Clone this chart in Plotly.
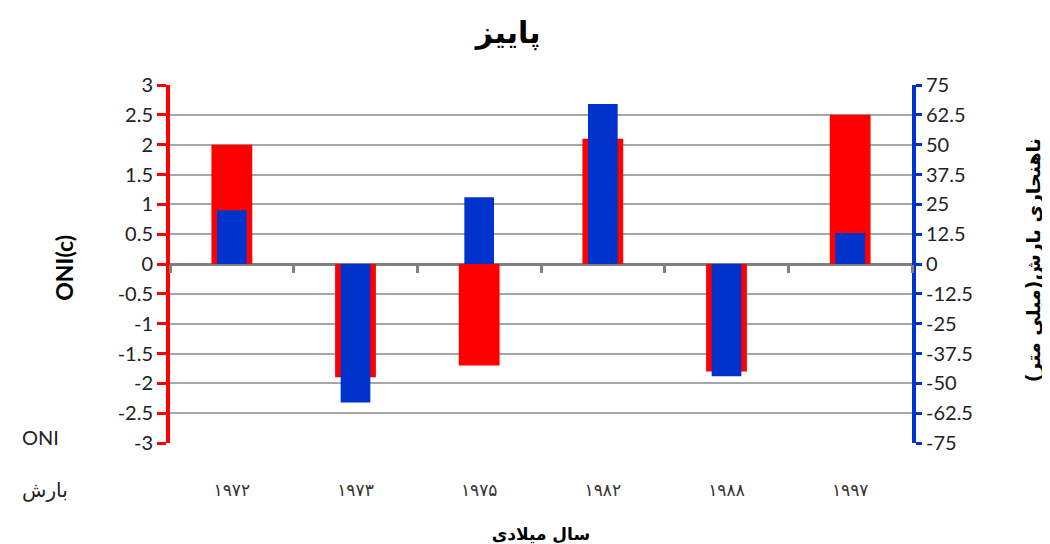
import plotly.graph_objects as go

years = ["۱۹۷۲", "۱۹۷۳", "۱۹۷۵", "۱۹۸۲", "۱۹۸۸", "۱۹۹۷"]
oni = [2.0, -1.9, -1.7, 2.1, -1.8, 2.5]
precip = [22.5, -58.0, 28.0, 67.0, -47.0, 13.0]

left_ticks = [3, 2.5, 2, 1.5, 1, 0.5, 0, -0.5, -1, -1.5, -2, -2.5, -3]
right_ticks = [75, 62.5, 50, 37.5, 25, 12.5, 0, -12.5, -25, -37.5, -50, -62.5, -75]

RED = "#FF0000"
BLUE = "#0033CC"
GRID = "#A6A6A6"
FONT = "Lato"

fig = go.Figure()
fig.add_trace(go.Bar(x=years, y=oni, name="ONI", marker=dict(color=RED, line=dict(width=0)),
                     width=0.33, yaxis="y"))
fig.add_trace(go.Bar(x=years, y=precip, name="بارش", marker=dict(color=BLUE, line=dict(width=0)),
                     width=0.24, yaxis="y2"))
# invisible helper so the zero-line category ticks axis renders
fig.add_trace(go.Scatter(x=[0, 6], y=[0, 0], xaxis="x2", yaxis="y", mode="markers",
                         marker=dict(opacity=0), hoverinfo="skip", showlegend=False))

fig.update_layout(
    width=1042, height=536,
    margin=dict(l=162, r=138, t=77, b=101, autoexpand=False),
    paper_bgcolor="white", plot_bgcolor="white",
    barmode="overlay",
    showlegend=False,
    title=dict(text="<b>پاییز</b>", x=0.48, xanchor="center", y=0.955, yanchor="middle",
               font=dict(family="DejaVu Sans", size=30, color="black")),
    xaxis=dict(
        type="category", showgrid=False, showline=False, ticks="", automargin=False,
        ticklabelstandoff=35,
        tickfont=dict(family="DejaVu Sans", size=17, color="#333333"),
        title=dict(text="<b>سال میلادی</b>", standoff=30,
                   font=dict(family="DejaVu Sans", size=17, color="black")),
    ),
    xaxis2=dict(
        overlaying="x", anchor="free", position=0.5, side="bottom", automargin=False,
        range=[0, 6], tickvals=[0, 1, 2, 3, 4, 5, 6], showticklabels=False,
        ticks="outside", ticklen=8, tickwidth=3, tickcolor="#808080",
        showline=False, showgrid=False, zeroline=False,
    ),
    yaxis=dict(
        range=[-3, 3], tickvals=left_ticks, ticktext=[str(v) for v in left_ticks],
        automargin=False,
        showgrid=True, gridcolor=GRID, gridwidth=1.5,
        zeroline=True, zerolinecolor="#808080", zerolinewidth=3,
        showline=True, linecolor=RED, linewidth=4,
        ticks="outside", ticklen=9, tickwidth=3, tickcolor=RED,
        tickfont=dict(family=FONT, size=20, color="#222222"),
    ),
    yaxis2=dict(
        range=[-75, 75], tickvals=right_ticks, ticktext=[str(v) for v in right_ticks],
        automargin=False,
        overlaying="y", side="right", showgrid=False, zeroline=False,
        showline=True, linecolor=BLUE, linewidth=4,
        ticks="outside", ticklen=6, tickwidth=3, tickcolor=BLUE,
        tickfont=dict(family=FONT, size=20, color="#222222"),
    ),
    annotations=[
        dict(text="<b>ONI(c)</b>", xref="paper", yref="paper", x=-0.144, y=0.49,
             xanchor="center", yanchor="middle",
             textangle=-90, showarrow=False, font=dict(family=FONT, size=23, color="black")),
        dict(text="<b>ناهنجاری بارش(میلی متر)</b>", xref="paper", yref="paper", x=1.163, y=0.51,
             xanchor="center", yanchor="middle",
             textangle=-90, showarrow=False, font=dict(family="DejaVu Sans", size=19, color="black")),
        dict(text="ONI", xref="paper", yref="paper", x=-0.175, y=0.017,
             xanchor="center", yanchor="middle",
             showarrow=False, font=dict(family=FONT, size=20, color="#222222")),
        dict(text="بارش", xref="paper", yref="paper", x=-0.168, y=-0.131,
             xanchor="center", yanchor="middle",
             showarrow=False, font=dict(family="DejaVu Sans", size=20, color="#222222")),
    ],
)

fig.write_html("out.html")
